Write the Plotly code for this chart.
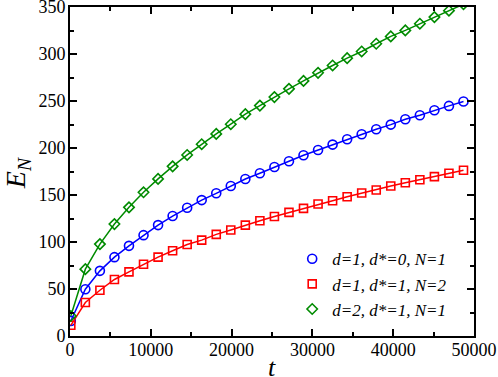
import plotly.graph_objects as go

# time points of the markers
t = [100 + 1800 * k for k in range(28)]

# d=1, d*=0, N=1 (blue circles)
e_blue = [16.0, 49.8, 69.3, 83.9, 95.9, 107.3, 118.0, 127.6, 136.4, 144.6,
          151.8, 159.5, 167.0, 173.1, 179.8, 185.9, 192.3, 197.9, 203.6, 209.3,
          214.6, 220.0, 224.9, 230.6, 234.9, 240.2, 244.8, 249.4]
# d=1, d*=1, N=2 (red squares)
e_red = [11.4, 35.6, 48.7, 60.1, 68.2, 76.4, 83.9, 90.7, 97.4, 102.0,
         108.1, 112.7, 118.0, 122.6, 127.2, 131.5, 135.8, 140.4, 143.9, 148.1,
         152.1, 155.3, 159.5, 163.1, 166.3, 169.5, 173.1, 176.3]
# d=2, d*=1, N=1 (green diamonds)
e_green = [21.3, 71.1, 97.8, 119.1, 136.9, 152.9, 167.1, 180.5, 192.6, 204.0,
           215.0, 225.3, 236.0, 245.1, 254.2, 262.9, 271.4, 280.0, 287.8, 295.6,
           302.7, 310.9, 318.7, 325.1, 332.2, 339.3, 346.1, 353.0]

labels = ["d=1, d*=0, N=1", "d=1, d*=1, N=2", "d=2, d*=1, N=1"]
colors = ["#0000ff", "#ff0000", "#008b00"]
symbols = ["circle-open", "square-open", "diamond-open"]
sizes = [9, 8, 8]

x_ticks = [0, 10000, 20000, 30000, 40000, 50000]
y_ticks = [0, 50, 100, 150, 200, 250, 300, 350]

SERIF = "Liberation Serif, Times New Roman, serif"

fig = go.Figure()

for ys, lab, col, sym, sz in zip([e_blue, e_red, e_green], labels, colors, symbols, sizes):
    # connecting curve
    fig.add_trace(go.Scatter(x=t, y=ys, mode="lines", showlegend=False,
                             line=dict(color=col, width=1.5)))
    # markers
    fig.add_trace(go.Scatter(x=t, y=ys, mode="markers", name="<i>" + lab + "</i>",
                             marker=dict(symbol=sym, size=sz, color=col,
                                         line=dict(color=col, width=1.6))))

axis_common = dict(
    showline=True, linecolor="black", linewidth=2, mirror="ticks",
    ticks="inside", ticklen=7, tickwidth=1.5, tickcolor="black",
    showgrid=False, zeroline=False, ticklabeloverflow="allow", automargin=False,
    tickfont=dict(family=SERIF, size=18, color="black"),
)

fig.update_xaxes(range=[0, 50000], tickvals=x_ticks,
                 ticktext=[str(v) for v in x_ticks], ticklabelstandoff=-4,
                 minor=dict(dtick=5000, ticks="inside", ticklen=4, tickcolor="black"),
                 **axis_common)
fig.update_yaxes(range=[0, 350], tickvals=y_ticks,
                 ticktext=[str(v) for v in y_ticks], ticklabelstandoff=-1,
                 minor=dict(dtick=25, ticks="inside", ticklen=4, tickcolor="black"),
                 **axis_common)

# axis titles
fig.add_annotation(text="<i>t</i>", xref="paper", yref="paper", x=0.499, y=-0.097,
                   showarrow=False, xanchor="center", yanchor="middle",
                   font=dict(family=SERIF, size=26, color="black"))
fig.add_annotation(text="<i>E</i><sub><i>N</i></sub>", xref="paper", yref="paper",
                   x=-0.131, y=0.495, textangle=-90, showarrow=False,
                   xanchor="center", yanchor="middle",
                   font=dict(family=SERIF, size=28, color="black"))

fig.update_layout(
    width=498, height=377,
    margin=dict(l=70, r=24, t=7, b=41),
    plot_bgcolor="white", paper_bgcolor="white",
    font=dict(family=SERIF, color="black"),
    legend=dict(x=0.55, y=0.288, xanchor="left", yanchor="top",
                bgcolor="rgba(0,0,0,0)", tracegroupgap=0,
                font=dict(family=SERIF, size=17, color="black")),
)

# drop the default page margin so the figure sits at the window corner
fig.write_html("out.html", config={"displayModeBar": False},
               post_script="document.body.style.margin='0';")
